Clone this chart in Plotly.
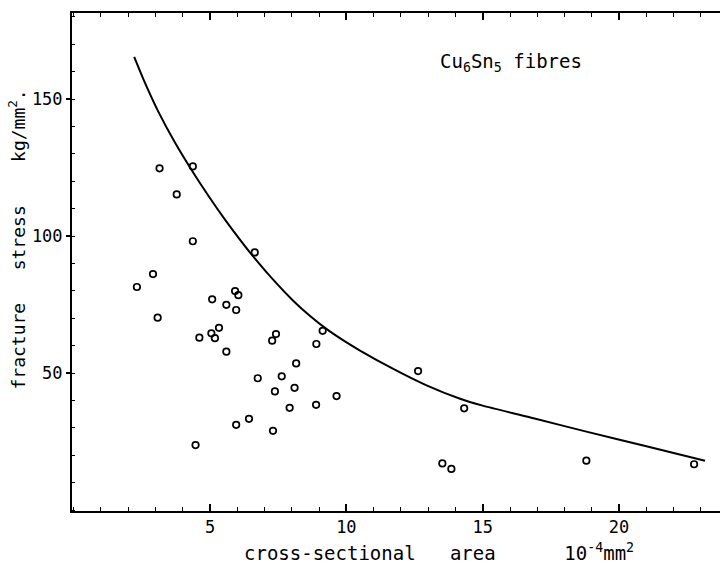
import plotly.graph_objects as go

# Measured fibres: cross-sectional area (10^-4 mm^2) and fracture stress (kg/mm^2)
area = [2.32, 2.91, 3.08, 3.15, 3.78, 4.37, 4.37, 4.61, 4.47, 5.08,
        5.05, 5.18, 5.33, 5.60, 5.60, 5.92, 6.04, 5.96, 5.96, 6.43,
        6.64, 6.75, 7.28, 7.42, 7.31, 7.38, 7.63, 7.92, 8.10, 8.16,
        8.89, 8.90, 9.13, 9.64, 12.63, 14.32, 13.52, 13.85, 18.80, 22.75]
stress = [81.4, 86.1, 70.2, 124.7, 115.2, 125.4, 98.1, 62.9, 23.7, 76.9,
          64.5, 62.7, 66.5, 74.9, 57.8, 79.9, 78.4, 73.0, 31.1, 33.3,
          94.0, 48.1, 61.8, 64.2, 28.9, 43.3, 48.8, 37.3, 44.6, 53.5,
          38.4, 60.6, 65.4, 41.6, 50.7, 37.1, 17.0, 15.0, 18.0, 16.7]

# Upper envelope curve
curve_area = [2.22, 2.62, 3.10, 3.71, 4.33, 4.94, 5.55, 6.16, 6.59, 7.44,
              8.05, 8.67, 9.28, 9.89, 10.50, 11.72, 12.94, 14.17, 15.00,
              16.90, 18.80, 21.00, 23.15]
curve_stress = [165.4, 155.8, 145.5, 134.2, 124.0, 114.7, 106.0, 97.9, 92.5, 82.7,
                76.4, 70.8, 66.0, 61.9, 58.2, 51.5, 45.5, 40.6, 38.1,
                33.4, 28.6, 23.3, 18.0]

x_ticks = [5, 10, 15, 20]
y_ticks = [50, 100, 150]

MONO = "DejaVu Sans Mono"

fig = go.Figure()
fig.add_trace(go.Scatter(
    x=curve_area, y=curve_stress, mode="lines",
    line=dict(color="black", width=2, shape="spline", smoothing=0.6),
    hoverinfo="skip", showlegend=False))
fig.add_trace(go.Scatter(
    x=area, y=stress, mode="markers",
    marker=dict(symbol="circle-open", size=6.5, color="black",
                line=dict(color="black", width=1.7)),
    showlegend=False))

fig.update_layout(
    width=720, height=563,
    margin=dict(l=72, r=0, t=13, b=52),
    paper_bgcolor="white", plot_bgcolor="white",
    font=dict(family=MONO, color="black", size=16),
    xaxis=dict(
        range=[-0.06, 23.70], tickmode="array", tickvals=x_ticks,
        ticktext=[str(v) for v in x_ticks],
        showgrid=False, zeroline=False,
        showline=True, linecolor="black", linewidth=2, mirror="ticks",
        ticks="inside", ticklen=7, tickwidth=1.5, tickcolor="black",
        tickfont=dict(family=MONO, size=17),
        minor=dict(tickmode="linear", tick0=0, dtick=1, ticks="inside",
                   ticklen=4, tickwidth=1.2, tickcolor="black", showgrid=False),
    ),
    yaxis=dict(
        range=[-0.36, 181.4], tickmode="array", tickvals=y_ticks,
        ticktext=[str(v) for v in y_ticks],
        showgrid=False, zeroline=False,
        showline=True, linecolor="black", linewidth=2, mirror=False,
        ticks="outside", ticklen=4, tickwidth=1.5, tickcolor="black",
        tickfont=dict(family=MONO, size=17),
        minor=dict(tickmode="linear", tick0=0, dtick=10, ticks="inside",
                   ticklen=3, tickwidth=1.2, tickcolor="black", showgrid=False),
    ),
)

# Axis titles in spaced lettering
fig.add_annotation(
    xref="paper", yref="paper", x=0.262, y=-0.055, yanchor="top", xanchor="left",
    text="cross-sectional   area      10<sup>-4</sup>mm<sup>2</sup>",
    showarrow=False, font=dict(family=MONO, size=19, color="black"))
fig.add_annotation(
    xref="paper", yref="paper", x=-0.085, y=0.545, xanchor="center", yanchor="middle",
    text="fracture   stress    kg/mm<sup>2</sup>.",
    textangle=-90, showarrow=False, font=dict(family=MONO, size=18, color="black"))

# Material label
fig.add_annotation(
    x=13.35, y=163.5, xanchor="left", yanchor="middle",
    text="Cu<sub>6</sub>Sn<sub>5</sub> fibres",
    showarrow=False, font=dict(family=MONO, size=19, color="black"))

fig.write_html("out.html")
